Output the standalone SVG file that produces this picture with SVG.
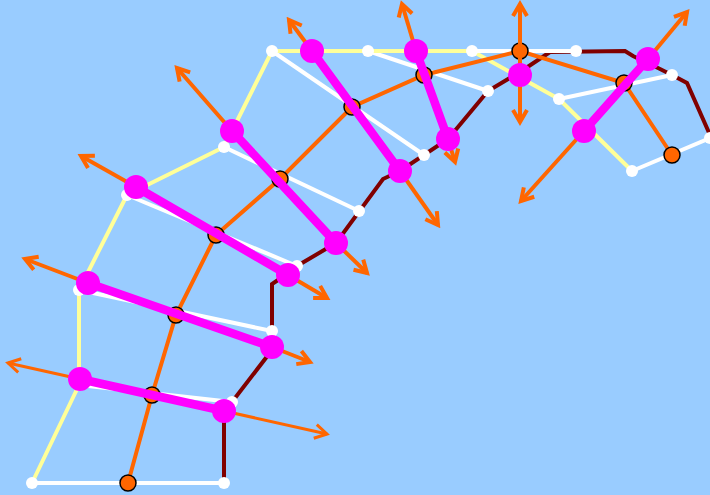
<svg xmlns="http://www.w3.org/2000/svg" width="710" height="495" viewBox="0 0 710 495">
<defs>
<style>
.w{stroke:#fff;stroke-width:4;fill:none}
.y{stroke:#ffff99;stroke-width:4;fill:none;stroke-linejoin:round}
.mr{stroke:#800000;stroke-width:4;fill:none;stroke-linejoin:miter}
.o{stroke:#ff6600;stroke-width:4;fill:none}
.mg{stroke:#ff00ff;stroke-width:8.5;stroke-linecap:round}
.a{stroke:#ff6600;stroke-width:4;marker-end:url(#ah)}
.at{stroke:#ff6600;stroke-width:3;marker-end:url(#aht)}
.wd{fill:#fff}
.on{fill:#ff6600;stroke:#000;stroke-width:1.5}
.mn{fill:#ff00ff}
</style>
<marker id="ah" viewBox="0 0 20 20" markerWidth="20" markerHeight="20" refX="16" refY="10" orient="auto" markerUnits="userSpaceOnUse">
<path d="M4,3 L16,10 L4,17" fill="none" stroke="#ff6600" stroke-width="4"/>
</marker>
<marker id="aht" viewBox="0 0 20 20" markerWidth="20" markerHeight="20" refX="16" refY="10" orient="auto" markerUnits="userSpaceOnUse">
<path d="M4,3 L16,10 L4,17" fill="none" stroke="#ff6600" stroke-width="3"/>
</marker>
</defs>
<rect width="710" height="495" fill="#99ccff"/>
<g id="connectors">
<g id="white-lines">
<line class="w" x1="32" y1="483" x2="224" y2="483"/>
<line class="w" x1="79" y1="385" x2="232" y2="402"/>
<line class="w" x1="79" y1="290" x2="272" y2="331"/>
<line class="w" x1="127" y1="195" x2="297" y2="266"/>
<line class="w" x1="224" y1="147" x2="359" y2="211"/>
<line class="w" x1="272" y1="51" x2="424" y2="155"/>
<line class="w" x1="368" y1="51" x2="488" y2="91"/>
<line class="w" x1="559" y1="99" x2="672" y2="75"/>
<line class="w" x1="632" y1="171" x2="710" y2="138"/>
</g>
<polyline class="y" points="32,483 79,385 79,290 127,195 224,147 272,51 472,51 559,99 632,171"/>
<polyline class="mr" points="224,483 224,411 232,402 272,350 272,284 278,280 297,266 336,243 383,179 400,171 448,139 488,91 520,72 550,52 625,51 633,56 658,68 672,75 687,83 710,135"/>
<line class="w" x1="472" y1="51" x2="576" y2="51"/>
<polyline class="o" points="128,483 152,395 176,315 216,235 280,179 352,107 424,75 520,51 624,83 672,155"/>
</g>
<g id="white-dots">
<circle class="wd" cx="32" cy="483" r="6"/>
<circle class="wd" cx="224" cy="483" r="6"/>
<circle class="wd" cx="79" cy="385" r="6"/>
<circle class="wd" cx="232" cy="402" r="6"/>
<circle class="wd" cx="79" cy="290" r="6"/>
<circle class="wd" cx="272" cy="331" r="6"/>
<circle class="wd" cx="127" cy="195" r="6"/>
<circle class="wd" cx="297" cy="266" r="6"/>
<circle class="wd" cx="224" cy="147" r="6"/>
<circle class="wd" cx="359" cy="211" r="6"/>
<circle class="wd" cx="272" cy="51" r="6"/>
<circle class="wd" cx="424" cy="155" r="6"/>
<circle class="wd" cx="368" cy="51" r="6"/>
<circle class="wd" cx="488" cy="91" r="6"/>
<circle class="wd" cx="472" cy="51" r="6"/>
<circle class="wd" cx="576" cy="51" r="6"/>
<circle class="wd" cx="559" cy="99" r="6"/>
<circle class="wd" cx="672" cy="75" r="6"/>
<circle class="wd" cx="632" cy="171" r="6"/>
<circle class="wd" cx="710" cy="138" r="6"/>
</g>
<g id="orange-nodes">
<circle id="o1" class="on" cx="128" cy="483" r="8"/>
<circle id="o2" class="on" cx="152" cy="395" r="8"/>
<circle id="o3" class="on" cx="176" cy="315" r="8"/>
<circle id="o4" class="on" cx="216" cy="235" r="8"/>
<circle id="o5" class="on" cx="280" cy="179" r="8"/>
<circle id="o6" class="on" cx="352" cy="107" r="8"/>
<circle id="o7" class="on" cx="424" cy="75" r="8"/>
<circle id="o8" class="on" cx="520" cy="51" r="8"/>
<circle id="o9" class="on" cx="624" cy="83" r="8"/>
<circle id="o10" class="on" cx="672" cy="155" r="8"/>
</g>
<g id="arrows">
<line class="at" x1="80" y1="379" x2="8" y2="363"/>
<line class="at" x1="224" y1="411" x2="327" y2="434"/>
<line class="a" x1="88" y1="283" x2="25" y2="259"/>
<line class="a" x1="272" y1="347" x2="310" y2="362"/>
<line class="a" x1="136" y1="187" x2="81" y2="156"/>
<line class="a" x1="288" y1="275" x2="327" y2="298"/>
<line class="a" x1="232" y1="131" x2="177" y2="68"/>
<line class="a" x1="336" y1="243" x2="367" y2="273"/>
<line class="a" x1="312" y1="51" x2="289" y2="20"/>
<line class="a" x1="400" y1="171" x2="438" y2="225"/>
<line class="a" x1="416" y1="51" x2="402" y2="4"/>
<line class="a" x1="448" y1="139" x2="455" y2="162"/>
<line class="a" x1="520" y1="75" x2="520" y2="4"/>
<line class="a" x1="520" y1="75" x2="520" y2="122"/>
<line class="a" x1="584" y1="131" x2="521" y2="201"/>
<line class="a" x1="648" y1="59" x2="687" y2="12"/>
</g>
<g id="magenta-links">
<line class="mg" x1="80" y1="379" x2="224" y2="411"/>
<line class="mg" x1="88" y1="283" x2="272" y2="347"/>
<line class="mg" x1="136" y1="187" x2="288" y2="275"/>
<line class="mg" x1="232" y1="131" x2="336" y2="243"/>
<line class="mg" x1="312" y1="51" x2="400" y2="171"/>
<line class="mg" x1="416" y1="51" x2="448" y2="139"/>
<line class="mg" x1="584" y1="131" x2="648" y2="59"/>
</g>
<g id="m1"><circle class="mn" cx="80" cy="379" r="12"/></g>
<g id="m2"><circle class="mn" cx="224" cy="411" r="12"/></g>
<g id="m3"><circle class="mn" cx="88" cy="283" r="12"/></g>
<g id="m4"><circle class="mn" cx="272" cy="347" r="12"/></g>
<g id="m5"><circle class="mn" cx="136" cy="187" r="12"/></g>
<g id="m6"><circle class="mn" cx="288" cy="275" r="12"/></g>
<g id="m7"><circle class="mn" cx="232" cy="131" r="12"/></g>
<g id="m8"><circle class="mn" cx="336" cy="243" r="12"/></g>
<g id="m9"><circle class="mn" cx="312" cy="51" r="12"/></g>
<g id="m10"><circle class="mn" cx="400" cy="171" r="12"/></g>
<g id="m11"><circle class="mn" cx="416" cy="51" r="12"/></g>
<g id="m12"><circle class="mn" cx="448" cy="139" r="12"/></g>
<g id="m13"><circle class="mn" cx="520" cy="75" r="12"/></g>
<g id="m14"><circle class="mn" cx="584" cy="131" r="12"/></g>
<g id="m15"><circle class="mn" cx="648" cy="59" r="12"/></g>
</svg>
